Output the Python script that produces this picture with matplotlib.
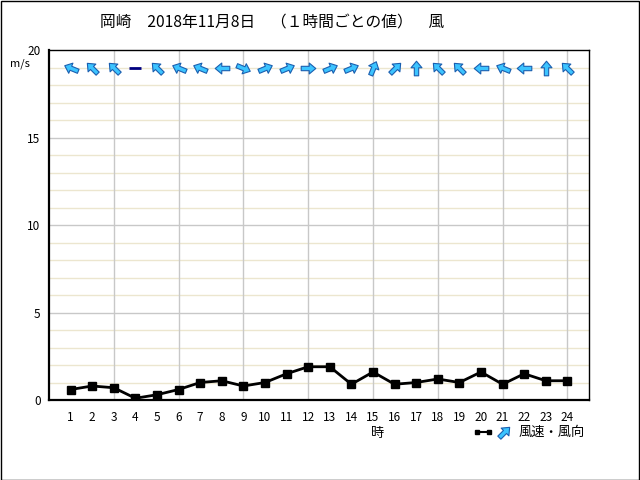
import matplotlib
matplotlib.use('Agg')
import matplotlib.pyplot as plt
from matplotlib.path import Path
from matplotlib.markers import MarkerStyle
from matplotlib.transforms import Affine2D
from matplotlib.lines import Line2D
from matplotlib.patches import Rectangle

plt.rcParams['font.family'] = ['Noto Sans CJK JP', 'DejaVu Sans']

# データ（1時間ごとの風速と風向）
hours = list(range(1, 25))
speed = [0.6, 0.8, 0.7, 0.1, 0.3, 0.6, 1.0, 1.1, 0.8, 1.0, 1.5, 1.9,
         1.9, 0.9, 1.6, 0.9, 1.0, 1.2, 1.0, 1.6, 0.9, 1.5, 1.1, 1.1]
# 矢印の向き（度、右=0、反時計回り）。None は静穏
arrow_deg = [157.5, 135, 135, None, 135, 157.5, 157.5, 180, -22.5, 22.5, 22.5, 0,
             22.5, 22.5, 67.5, 45, 90, 135, 135, 180, 157.5, 180, 90, 135]
arrow_row = 19

# 矢印の形
verts = [(-1, -0.3), (0.1, -0.3), (0.1, -0.75), (1, 0), (0.1, 0.75),
         (0.1, 0.3), (-1, 0.3), (-1, -0.3)]
codes = [Path.MOVETO] + [Path.LINETO] * 6 + [Path.CLOSEPOLY]
arrow_path = Path(verts, codes)


def arrow_marker(deg):
    return MarkerStyle(arrow_path, transform=Affine2D().rotate_deg(deg))


fig = plt.figure(figsize=(6.4, 4.8), dpi=100)
ax = fig.add_axes([49 / 640, 80 / 480, 540 / 640, 350 / 480])

ax.set_xlim(0, 25)
ax.set_ylim(0, 20)

# グリッド
for y in range(1, 20):
    if y % 5 == 0:
        ax.axhline(y, color='#c8c8c8', lw=1, zorder=1)
    else:
        ax.axhline(y, color='#ece6cf', lw=1, zorder=0.5)
for x in range(3, 25, 3):
    ax.axvline(x, color='#c8c8c8', lw=1, zorder=1)

# 風速
ax.plot(hours, speed, color='black', lw=2, marker='s', markersize=6, zorder=3)

# 風向
for h, d in zip(hours, arrow_deg):
    if d is None:
        ax.plot(h, arrow_row, marker='_', color='#000080', markersize=9,
                markeredgewidth=2, zorder=3)
    else:
        ax.plot(h, arrow_row, marker=arrow_marker(d), markersize=10.5,
                markerfacecolor='#3cc4ff', markeredgecolor='#1a5fb0',
                markeredgewidth=0.8, linestyle='none', zorder=3)

ax.set_xticks(hours)
ax.set_xticklabels([str(h) for h in hours])
ax.set_yticks([0, 5, 10, 15, 20])
ax.tick_params(length=0, labelsize=8.5, pad=6)
ax.tick_params(axis='x', pad=8)
for s in ax.spines.values():
    s.set_linewidth(1)
ax.spines['left'].set_linewidth(1.6)
ax.spines['bottom'].set_linewidth(1.6)

fig.text(100 / 640, 1 - 23 / 480, '岡崎　2018年11月8日　（１時間ごとの値）　風',
         fontsize=11.3, ha='left', va='center')
fig.text(20 / 640, 1 - 64 / 480, 'm/s', fontsize=8, ha='center', va='center')
fig.text(378 / 640, 1 - 433 / 480, '時', fontsize=9.5, ha='center', va='center')

# 凡例
leg_y = 1 - 432 / 480
fig.add_artist(Line2D([477 / 640, 489 / 640], [leg_y, leg_y], color='black', lw=1.5))
fig.add_artist(Line2D([477 / 640, 489 / 640], [leg_y, leg_y], color='black', lw=0,
                      marker='s', markersize=2.5, markevery=[0, 1]))
fig.add_artist(Line2D([504 / 640], [leg_y], marker=arrow_marker(45), markersize=10.5,
                      markerfacecolor='#3cc4ff', markeredgecolor='#1a5fb0',
                      markeredgewidth=0.8, linestyle='none'))
fig.text(519 / 640, leg_y, '風速・風向', fontsize=9.5, ha='left', va='center')

# 外枠
fig.add_artist(Rectangle((0.001, 0.001), 0.998, 0.997, transform=fig.transFigure,
                         fill=False, edgecolor='black', lw=1))

plt.savefig('out.png', dpi=100)
